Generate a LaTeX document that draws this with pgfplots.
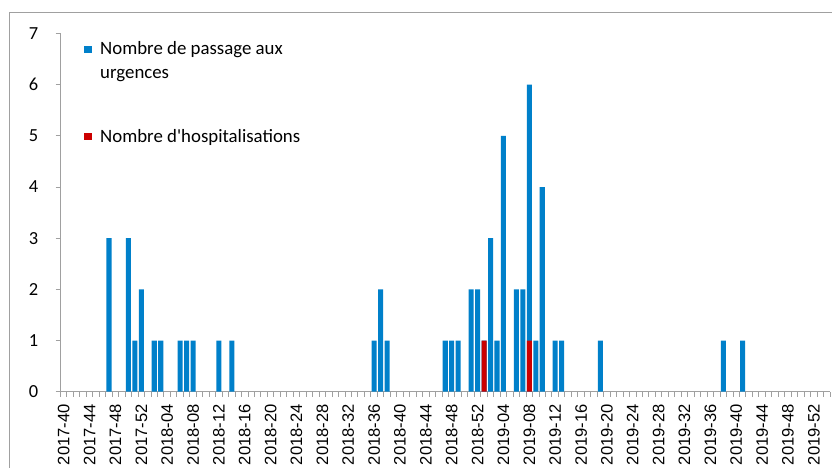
\documentclass[border=0pt]{standalone}
\usepackage{fontspec}
\setmainfont{Carlito}
\newfontfamily\arialfont{Liberation Sans}
\usepackage{pgfplots}
\pgfplotsset{compat=1.18}
\definecolor{barblue}{RGB}{0,128,202}
\definecolor{barred}{RGB}{204,0,0}
\definecolor{axgray}{RGB}{160,160,160}

\begin{document}
\begin{tikzpicture}[x=1bp,y=1bp]
% outer chart frame (cropped)
\draw[axgray, line width=1bp] (9.3,-5) -- (9.3,455.3) -- (840,455.3);
\begin{axis}[
  at={(60.5bp,76.3bp)}, anchor=south west,
  scale only axis,
  width=769.5bp, height=358.2bp,
  xmin=-0.5, xmax=118.5,
  ymin=0, ymax=7,
  axis lines*=left,
  axis line style={axgray, line width=1.3bp},
  tick align=outside,
  major tick length=5bp,
  minor tick length=5bp,
  xtick={0,4,...,116},
  xticklabels={2017-40,2017-44,2017-48,2017-52,2018-04,2018-08,2018-12,2018-16,2018-20,2018-24,2018-28,2018-32,2018-36,2018-40,2018-44,2018-48,2018-52,2019-04,2019-08,2019-12,2019-16,2019-20,2019-24,2019-28,2019-32,2019-36,2019-40,2019-44,2019-48,2019-52},
  major x tick style={draw=none},
  minor xtick={-0.5,0.5,...,118.5},
  minor x tick style={axgray, line width=1bp},
  ytick={0,1,...,7},
  major y tick style={axgray, line width=1bp},
  xticklabel style={font=\arialfont\fontsize{16.6}{20}\selectfont, yshift=-7.5bp, rotate=90, anchor=east, inner sep=0pt},
  yticklabel style={font=\fontsize{18.5}{20}\selectfont, inner sep=0pt, xshift=-17bp},
  /pgf/number format/assume math mode=true,
]
% Nombre de passage aux urgences
\addplot[ybar, bar width=0.78, bar shift=0pt, fill=barblue, draw=none] coordinates {
  (7,3) (10,3) (11,1) (12,2) (14,1) (15,1) (18,1) (19,1) (20,1) (24,1) (26,1)
  (48,1) (49,2) (50,1) (59,1) (60,1) (61,1) (63,2) (64,2) (65,1) (66,3) (67,1)
  (68,5) (70,2) (71,2) (72,6) (73,1) (74,4) (76,1) (77,1) (83,1) (102,1) (105,1)
};
% Nombre d'hospitalisations
\addplot[ybar, bar width=0.78, bar shift=0pt, fill=barred, draw=none] coordinates {
  (65,1) (72,1)
};
\end{axis}
% legend
\fill[barblue] (84.3,414.7) rectangle (91.7,422);
\node[anchor=base west, inner sep=0pt, font=\fontsize{18.9}{20}\selectfont] at (100,413) {Nombre de passage aux};
\node[anchor=base west, inner sep=0pt, font=\fontsize{18.9}{20}\selectfont] at (100,389) {urgences};
\fill[barred] (84.3,328) rectangle (91.7,335.3);
\node[anchor=base west, inner sep=0pt, font=\fontsize{18.9}{20}\selectfont] at (100,325) {Nombre d\textquotesingle hospitalisations};
\pgfresetboundingbox
\path[use as bounding box] (0,0) rectangle (832,468);
\end{tikzpicture}
\end{document}
